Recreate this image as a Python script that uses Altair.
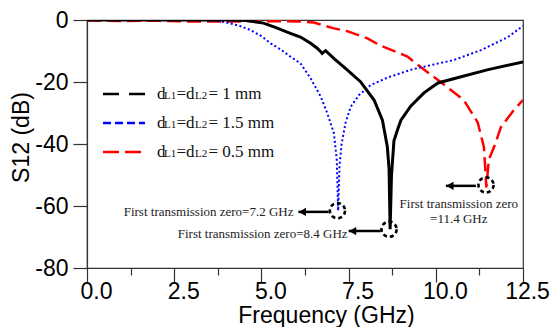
import altair as alt
import pandas as pd

# ---- data ----
black_x = [0, 1, 2, 3, 4, 4.6, 5.06, 5.4, 5.83, 6.12, 6.41, 6.6, 6.7, 6.74, 6.84, 7.1, 7.46, 7.84,
           8.23, 8.47, 8.61, 8.66, 8.69, 8.73, 8.8, 8.9, 9.0, 9.28, 9.66, 10.06, 10.7, 11.5, 12.5]
black_y = [0, 0, 0, 0, 0, -0.2, -1, -2.4, -4.3, -5.5, -7.5, -9.1, -10.2, -10.8, -9.9, -12.6, -16.1, -19.9,
           -25.8, -32.3, -40.9, -48, -67.5, -50, -39, -35.5, -32.3, -27.8, -23.5, -20.3, -18.4, -16, -13.5]

blue_x = [0, 1, 2, 3, 3.5, 3.8, 4.11, 4.4, 4.68, 5.0, 5.26, 5.55, 5.83, 6.12, 6.41, 6.7, 6.89, 7.08,
          7.16, 7.2, 7.24, 7.3, 7.41, 7.56, 7.8, 8.13, 8.61, 9.3, 10.0, 10.52, 11.3, 12.07, 12.5]
blue_y = [0, 0, 0, 0, -0.1, -0.4, -1.1, -2, -3.2, -5.2, -7.5, -9.5, -11.8, -14, -18.8, -24.7, -30.1, -36.6,
          -45, -61.5, -47, -40, -33.3, -28, -24.2, -21, -18.6, -16, -14.2, -12.9, -9.7, -5.5, -1.9]

red_x = [0, 1, 2, 3, 4, 5, 5.5, 6.12, 6.5, 7.08, 7.46, 8.04, 8.42, 9.19, 9.37, 10.14, 10.8, 11.2,
         11.38, 11.45, 11.52, 11.67, 11.87, 12.24, 12.5]
red_y = [-0.2, -0.3, -0.2, -0.5, -0.5, -0.4, -0.4, -0.5, -0.8, -2.7, -3.6, -5.9, -8.3, -11.8, -13.5, -20,
         -25.8, -33, -41, -54, -45, -41, -34.5, -29, -25.8]

# transmission-zero markers: circle centre, arrow start/end, label
zero_x = [7.18, 8.66, 11.44]
zero_y = [-61.5, -67.5, -53.2]
arrow_from = [6.93, 8.42, 11.15]
arrow_to = [6.06, 7.5, 10.29]
arrow_y = [-61.9, -68.1, -53.5]
left_labels = ["First transmission zero=7.2 GHz", "First transmission zero=8.4 GHz"]
left_label_x = [5.92, 7.47]
left_label_y = [-63.2, -70.3]
red_label = ["First transmission zero", "=11.4 GHz"]
red_label_x = [10.66, 10.66]
red_label_y = [-60.6, -65.5]

legend_values = ["1", "1.5", "0.5"]

x_ticks = [0, 1.25, 2.5, 3.75, 5, 6.25, 7.5, 8.75, 10, 11.25, 12.5]
y_ticks = [0, -10, -20, -30, -40, -50, -60, -70, -80]

W, H = 436, 248
SANS = "Liberation Sans"
SERIF = "Liberation Serif"

xaxis = alt.Axis(
    values=x_ticks, title="Frequency (GHz)", grid=False,
    labelExpr="abs(datum.value % 2.5) < 0.001 ? format(datum.value, '.1f') : ''",
    tickSize={"condition": {"test": "abs(datum.value % 2.5) < 0.001", "value": 14}, "value": 7},
    labelOffset={"condition": {"test": "datum.value > 12", "value": 4}, "value": 9},
    labelFont=SANS, labelFontSize=23, labelColor="black", labelPadding=-2,
    labelFlush=False, labelOverlap=False,
    titleFont=SANS, titleFontSize=23, titleFontWeight="normal", titleColor="black",
    titleX=239, titleY=54, titleBaseline="alphabetic", titleAlign="center",
    domainColor="#333", tickColor="#333", tickWidth=1.2, domainWidth=1.2,
)
yaxis = alt.Axis(
    values=y_ticks, title="S12 (dB)", grid=False,
    labelExpr="datum.value % 20 === 0 ? '' + datum.value : ''",
    tickSize={"condition": {"test": "datum.value % 20 === 0", "value": 14}, "value": 8},
    labelFont=SANS, labelFontSize=23, labelColor="black", labelPadding=5,
    labelFlush=False, labelOverlap=False,
    titleFont=SANS, titleFontSize=23, titleFontWeight="normal", titleColor="black",
    titleX=-66, titleY=117, titleBaseline="middle", titleAlign="center", titleAngle=270,
    domainColor="#333", tickColor="#333", tickWidth=1.2, domainWidth=1.2,
)
xs = alt.Scale(domain=[0, 12.5], nice=False, zero=False)
ys = alt.Scale(domain=[-80, 0], nice=False, zero=False)


def curve(xv, yv, color, width, dash=None):
    df = pd.DataFrame({"f": xv, "s": yv})
    kw = dict(color=color, strokeWidth=width, clip=True)
    if dash:
        kw["strokeDash"] = dash
    return alt.Chart(df).mark_line(**kw).encode(
        x=alt.X("f:Q", scale=xs, axis=xaxis),
        y=alt.Y("s:Q", scale=ys, axis=yaxis),
    )


black = curve(black_x, black_y, "black", 3)
blue = curve(blue_x, blue_y, "#0000ff", 2, [2, 2.5])
red = curve(red_x, red_y, "#ff0000", 2.5, [14, 6])

zeros = pd.DataFrame({"f": zero_x, "s": zero_y})
circles = alt.Chart(zeros).mark_point(
    shape="circle", size=230, filled=False, color="black", strokeWidth=2.6, strokeDash=[4, 3], opacity=1
).encode(x="f:Q", y="s:Q")

arrows_df = pd.DataFrame({"a": arrow_from, "b": arrow_to, "s": arrow_y})
arrows = alt.Chart(arrows_df).mark_rule(color="black", strokeWidth=2.5).encode(
    x="a:Q", x2="b:Q", y="s:Q"
)
heads = alt.Chart(arrows_df).mark_point(
    shape="triangle-left", size=70, filled=True, color="black", opacity=1, xOffset=4
).encode(x="b:Q", y="s:Q")

left_df = pd.DataFrame({"t": left_labels, "f": left_label_x, "s": left_label_y})
left_text = alt.Chart(left_df).mark_text(
    font=SERIF, fontSize=13, align="right", baseline="alphabetic", color="#222"
).encode(x="f:Q", y="s:Q", text="t:N")

red_df = pd.DataFrame({"t": red_label, "f": red_label_x, "s": red_label_y})
red_text = alt.Chart(red_df).mark_text(
    font=SERIF, fontSize=13, align="center", baseline="alphabetic", color="#222"
).encode(x="f:Q", y="s:Q", text="t:N")

# ---- hand-made legend (legend symbols differ from the plotted line styles) ----
leg_colors = ["black", "#0000ff", "#ff0000"]
leg_dash = [[16, 10], [8, 4], [16, 6]]
leg_rows = [74, 103, 132]
legend_layers = []
for i, v in enumerate(legend_values):
    yy = leg_rows[i]
    one = pd.DataFrame({"k": [v]})
    legend_layers.append(
        alt.Chart(one).mark_rule(color=leg_colors[i], strokeWidth=2.6, strokeDash=leg_dash[i]).encode(
            x=alt.value(16), x2=alt.value(58), y=alt.value(yy)
        )
    )
    pieces = [("d", 17, 70), ("L1", 11, 77), ("=d", 17, 89.5), ("L2", 11, 108), (f"= {v} mm", 17, 121.5)]
    for txt, fs, px in pieces:
        legend_layers.append(
            alt.Chart(one).mark_text(
                text=txt, font=SERIF, fontSize=fs, align="left", baseline="alphabetic", color="#111"
            ).encode(x=alt.value(px), y=alt.value(yy + 5))
        )

chart = alt.layer(
    red, blue, black, circles, arrows, heads, left_text, red_text, *legend_layers
).properties(
    width=W, height=H,
    autosize=alt.AutoSizeParams(type="none"),
    padding={"left": 79, "top": 12, "right": 28, "bottom": 59},
    background="white",
).configure_view(stroke="#333", strokeWidth=1.2)

chart.save("out.html", embed_options={"renderer": "svg", "actions": False})
